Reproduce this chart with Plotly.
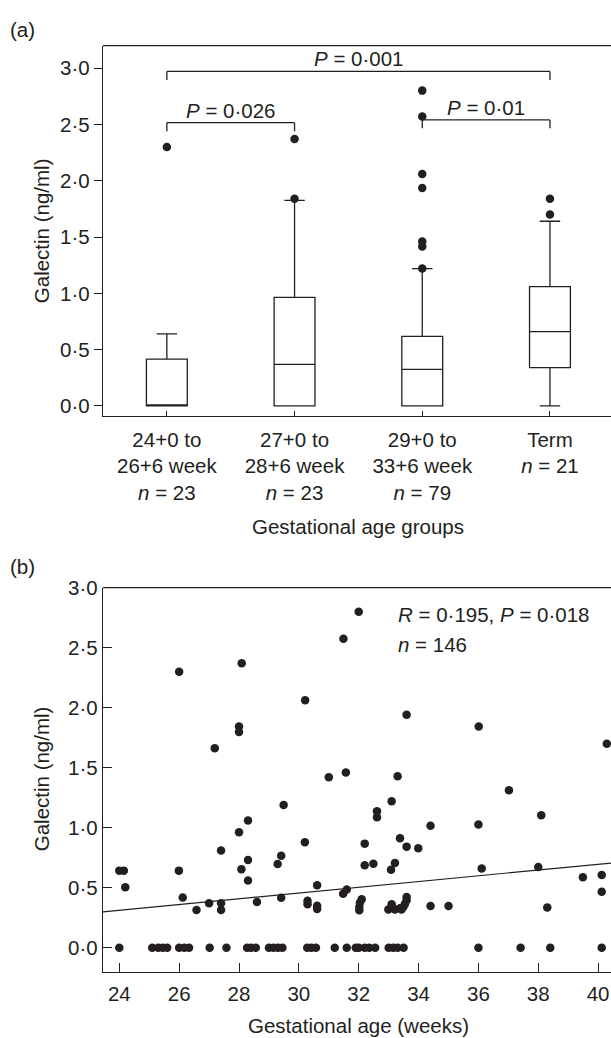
import plotly.graph_objects as go

# ---------------- Panel (a) data: box-plot summaries ----------------
group_labels = ["24+0 to<br>26+6 week<br><i>n</i> = 23",
                "27+0 to<br>28+6 week<br><i>n</i> = 23",
                "29+0 to<br>33+6 week<br><i>n</i> = 79",
                "Term<br><i>n</i> = 21"]
group_pos = [0, 1, 2, 3]
box_q1 = [0.0, 0.0, 0.0, 0.34]
box_median = [0.0, 0.37, 0.325, 0.66]
box_q3 = [0.415, 0.965, 0.617, 1.06]
box_lower = [0.0, 0.0, 0.0, 0.0]
box_upper = [0.64, 1.825, 1.22, 1.64]

outlier_group = [0, 1, 1, 2, 2, 2, 2, 2, 2, 2, 3, 3]
outlier_value = [2.30, 1.84, 2.37, 1.22, 1.415, 1.46, 1.935, 2.06, 2.57, 2.80, 1.70, 1.84]

bracket_from = [0, 2, 0]
bracket_to = [1, 3, 3]
bracket_level = [2.515, 2.54, 2.97]
bracket_text = ["<i>P</i> = 0·026", "<i>P</i> = 0·01", "<i>P</i> = 0·001"]

# ---------------- Panel (b) data: scatter ----------------
scatter_weeks = [
    26.0, 28.09, 31.49, 32.0, 30.21, 28.0, 28.0, 27.19, 31.0, 31.57, 29.49, 28.3, 28.0,
    33.6, 36.01, 40.29, 33.3, 37.02, 33.1, 32.61, 32.61, 34.4, 36.0, 38.1, 30.2, 27.4,
    24.0, 24.15, 24.2, 25.99, 26.12, 26.58, 27.0, 27.4, 27.4, 28.08, 28.3, 28.3, 28.6,
    29.29, 29.41, 29.41, 30.29, 30.29, 30.61, 30.61, 30.61, 31.48, 31.6,
    32.2, 33.38, 33.6, 33.99, 32.2, 32.49, 33.21, 33.08, 36.11, 38.0, 39.49, 40.12, 40.12,
    32.1, 32.04, 32.02, 32.02,
    32.99, 33.1, 33.21, 33.38, 33.43, 33.49, 33.6, 33.6, 33.54,
    34.4, 35.0, 38.3,
    # zero values
    24.0, 25.1, 25.3, 25.45, 25.6, 26.0, 26.17, 26.33, 27.02, 27.58,
    28.27, 28.4, 28.56, 29.0, 29.15, 29.3, 29.45, 30.28, 30.42, 30.57,
    31.2, 31.6, 31.9, 32.0, 32.2, 32.35, 32.55, 33.0, 33.15, 33.3, 33.5,
    36.0, 37.41, 38.4, 40.12,
]
scatter_galectin = [
    2.30, 2.37, 2.575, 2.80, 2.063, 1.843, 1.797, 1.662, 1.42, 1.46, 1.19, 1.06, 0.962,
    1.942, 1.843, 1.70, 1.429, 1.313, 1.22, 1.138, 1.088, 1.017, 1.027, 1.105, 0.879, 0.81,
    0.643, 0.643, 0.505, 0.643, 0.42, 0.316, 0.371, 0.371, 0.316, 0.654, 0.731, 0.56, 0.382,
    0.698, 0.767, 0.417, 0.392, 0.363, 0.522, 0.351, 0.324, 0.45, 0.485,
    0.868, 0.912, 0.843, 0.829, 0.687, 0.70, 0.706, 0.65, 0.66, 0.673, 0.588, 0.607, 0.467,
    0.404, 0.376, 0.34, 0.313,
    0.32, 0.363, 0.32, 0.33, 0.32, 0.34, 0.396, 0.423, 0.363,
    0.349, 0.349, 0.335,
    0.0, 0.0, 0.0, 0.0, 0.0, 0.0, 0.0, 0.0, 0.0, 0.0,
    0.0, 0.0, 0.0, 0.0, 0.0, 0.0, 0.0, 0.0, 0.0, 0.0,
    0.0, 0.0, 0.0, 0.0, 0.0, 0.0, 0.0, 0.0, 0.0, 0.0, 0.0,
    0.0, 0.0, 0.0, 0.0,
]
fit_weeks = [23.455, 40.43]
fit_galectin = [0.30, 0.706]

y_ticks = [0, 0.5, 1.0, 1.5, 2.0, 2.5, 3.0]
y_ticktext = ["0·0", "0·5", "1·0", "1·5", "2·0", "2·5", "3·0"]
week_ticks = [24, 26, 28, 30, 32, 34, 36, 38, 40]

# ---------------- layout constants ----------------
W, H = 611, 1038
INK = "#231f20"
FONT = "Liberation Sans, Arial, sans-serif"
FS = 20.5
LW = 1.3


def px_x(p):
    return p / W


def px_y(p):
    return 1 - p / H


fig = go.Figure()

for i in range(len(group_pos)):
    fig.add_trace(go.Box(
        x=[group_pos[i]], q1=[box_q1[i]], median=[box_median[i]], q3=[box_q3[i]],
        lowerfence=[box_lower[i]], upperfence=[box_upper[i]],
        width=0.32, whiskerwidth=0.5, fillcolor="white",
        line=dict(color=INK, width=LW), boxpoints=False,
        xaxis="x", yaxis="y", showlegend=False, hoverinfo="skip"))

fig.add_trace(go.Scatter(
    x=outlier_group, y=outlier_value, mode="markers",
    marker=dict(color=INK, size=8.5), xaxis="x", yaxis="y", showlegend=False))

shapes = []
annotations = []
for a, b, lvl, txt in zip(bracket_from, bracket_to, bracket_level, bracket_text):
    drop = 0.075
    shapes.append(dict(type="line", xref="x", yref="y", x0=a, x1=b, y0=lvl, y1=lvl,
                       line=dict(color=INK, width=LW)))
    for e in (a, b):
        shapes.append(dict(type="line", xref="x", yref="y", x0=e, x1=e, y0=lvl, y1=lvl - drop,
                           line=dict(color=INK, width=LW)))
    annotations.append(dict(x=(a + b) / 2, y=lvl, xref="x", yref="y", text=txt,
                            showarrow=False, yanchor="bottom", yshift=-1,
                            font=dict(size=FS, color=INK, family=FONT)))

fig.add_trace(go.Scatter(
    x=scatter_weeks, y=scatter_galectin, mode="markers",
    marker=dict(color=INK, size=8.5), xaxis="x2", yaxis="y2", showlegend=False))
fig.add_trace(go.Scatter(
    x=fit_weeks, y=fit_galectin, mode="lines", line=dict(color=INK, width=1.2),
    xaxis="x2", yaxis="y2", showlegend=False))

# top borders
for xr, yr in (("x domain", "y domain"), ("x2 domain", "y2 domain")):
    shapes.append(dict(type="line", xref=xr, yref=yr, x0=0, x1=1, y0=1, y1=1,
                       line=dict(color=INK, width=LW)))

txtfont = dict(size=FS, color=INK, family=FONT)
annotations += [
    dict(x=px_x(8), y=px_y(18), xref="paper", yref="paper", text="(a)", showarrow=False,
         xanchor="left", yanchor="middle", font=txtfont),
    dict(x=px_x(8), y=px_y(562), xref="paper", yref="paper", text="(b)", showarrow=False,
         xanchor="left", yanchor="middle", font=txtfont),
    dict(x=px_x(41), y=px_y(222), xref="paper", yref="paper", text="Galectin (ng/ml)",
         textangle=-90, showarrow=False, xanchor="center", yanchor="middle", font=txtfont),
    dict(x=px_x(41), y=px_y(777), xref="paper", yref="paper", text="Galectin (ng/ml)",
         textangle=-90, showarrow=False, xanchor="center", yanchor="middle", font=txtfont),
    dict(x=px_x(358), y=px_y(521), xref="paper", yref="paper", text="Gestational age groups",
         showarrow=False, xanchor="center", yanchor="middle", font=txtfont),
    dict(x=px_x(358), y=px_y(1026), xref="paper", yref="paper", text="Gestational age (weeks)",
         showarrow=False, xanchor="center", yanchor="middle", font=txtfont),
    dict(x=px_x(396), y=px_y(610), xref="paper", yref="paper",
         text="<i>R</i> = 0·195, <i>P</i> = 0·018", showarrow=False, xanchor="left",
         yanchor="middle", font=txtfont),
    dict(x=px_x(396), y=px_y(641), xref="paper", yref="paper",
         text="<i>n</i> = 146", showarrow=False, xanchor="left", yanchor="middle",
         font=txtfont),
]

axis_common = dict(showgrid=False, zeroline=False, showline=True, linecolor=INK,
                   linewidth=LW, tickcolor=INK, tickwidth=LW, mirror=False,
                   tickfont=dict(size=FS, color=INK, family=FONT))

fig.update_layout(
    width=W, height=H, margin=dict(l=0, r=0, t=0, b=0),
    paper_bgcolor="white", plot_bgcolor="white", showlegend=False,
    shapes=shapes, annotations=annotations,
    xaxis=dict(axis_common, domain=[px_x(103), 1.0], range=[-0.5, 3.478],
               tickmode="array", tickvals=group_pos, ticktext=group_labels,
               ticks="inside", ticklen=5, ticklabelstandoff=5, anchor="y"),
    yaxis=dict(axis_common, domain=[px_y(409), px_y(34)], range=[-0.088, 3.2],
               tickmode="array", tickvals=y_ticks, ticktext=y_ticktext,
               ticks="outside", ticklen=8, anchor="x"),
    xaxis2=dict(axis_common, domain=[px_x(103), 1.0], range=[23.455, 40.43],
                tickmode="array", tickvals=week_ticks,
                ticks="inside", ticklen=9, ticklabelstandoff=3, anchor="y2"),
    yaxis2=dict(axis_common, domain=[px_y(972), px_y(583)], range=[-0.2, 3.0],
                tickmode="array", tickvals=y_ticks, ticktext=y_ticktext,
                ticks="inside", ticklen=9, anchor="x2"),
)

page_css = (
    "document.documentElement.style.margin='0';"
    "document.documentElement.style.overflow='hidden';"
    "document.body.style.margin='0';"
    "document.body.style.overflow='hidden';"
    "var gd=document.getElementById('{plot_id}');"
    "gd.style.position='absolute';gd.style.left='0px';gd.style.top='0px';"
)
fig.write_html("out.html", config={"displayModeBar": False}, post_script=page_css)
